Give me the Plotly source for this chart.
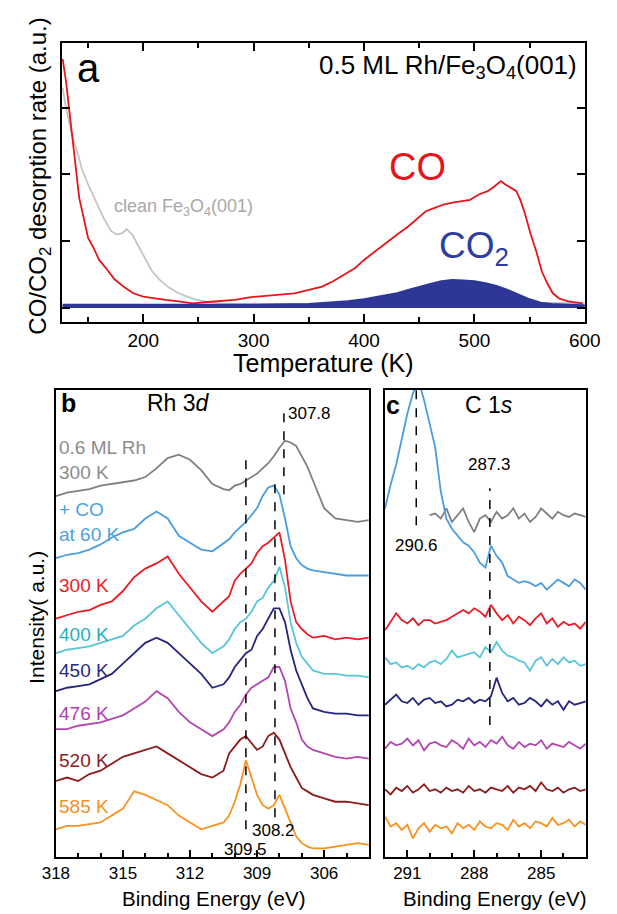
import plotly.graph_objects as go

W, H = 617, 914
FONT = "Liberation Sans, Arial, sans-serif"

# ---------------- Panel a: TPD ----------------
T_co = [127, 130, 133, 136, 139, 142, 146, 150, 155, 160, 167, 174, 182, 191, 200, 210, 220, 232, 245,
        258, 270, 283, 296, 310, 324, 337, 350, 362, 372, 382, 392, 400, 410, 420, 430, 440, 448, 456,
        464, 472, 480, 488, 496, 504, 512, 518, 524, 528, 533, 538, 542, 546, 551, 556, 561, 566, 571,
        577, 585, 592, 598]
co_rate = [3.73, 3.4, 2.96, 2.5, 2.05, 1.65, 1.35, 1.05, 0.9, 0.72, 0.58, 0.43, 0.32, 0.22, 0.17, 0.14,
           0.12, 0.1, 0.07, 0.09, 0.1, 0.12, 0.16, 0.18, 0.2, 0.22, 0.27, 0.32, 0.4, 0.5, 0.6, 0.72, 0.85,
           0.97, 1.1, 1.22, 1.33, 1.45, 1.5, 1.55, 1.58, 1.6, 1.62, 1.7, 1.75, 1.82, 1.9, 1.85, 1.8, 1.75,
           1.6, 1.4, 1.1, 0.85, 0.55, 0.37, 0.22, 0.14, 0.1, 0.08, 0.07]

T_clean = [127, 130, 134, 137, 141, 144, 150, 157, 164, 171, 176, 181, 185, 190, 195, 201, 208, 215, 222,
           230, 238, 247, 258, 270, 290, 320, 360, 400, 450, 500, 550, 600]
clean_rate = [3.3, 3.0, 2.7, 2.5, 2.3, 2.1, 1.85, 1.6, 1.35, 1.15, 1.1, 1.12, 1.18, 1.1, 0.95, 0.75, 0.55,
              0.42, 0.32, 0.24, 0.18, 0.13, 0.09, 0.07, 0.06, 0.06, 0.06, 0.07, 0.07, 0.07, 0.08, 0.07]

T_co2 = [127, 150, 200, 250, 300, 350, 370, 385, 400, 415, 430, 440, 450, 460, 470, 480, 490, 500, 510,
         520, 530, 540, 550, 560, 570, 585, 600]
co2_rate = [0.05, 0.05, 0.04, 0.05, 0.05, 0.06, 0.08, 0.1, 0.13, 0.17, 0.22, 0.27, 0.32, 0.36, 0.4, 0.42,
            0.41, 0.4, 0.37, 0.33, 0.27, 0.2, 0.13, 0.08, 0.06, 0.05, 0.04]

# ---------------- Panel b: Rh 3d ----------------
E_rh = [318, 317.5, 317, 316.5, 316, 315.5, 315, 314.5, 314, 313.5, 313, 312.5, 312, 311.5, 311, 310.5,
        310.25, 310, 309.75, 309.5, 309.25, 309, 308.75, 308.5, 308.25, 308, 307.75, 307.5, 307.25, 307,
        306.75, 306.5, 306, 305.5, 305, 304.5, 304]
rh_labels = ["0.6 ML Rh<br>300 K", "+ CO<br>at 60 K", "300 K", "400 K", "450 K", "476 K", "520 K", "585 K"]
rh_line_colors = ["#808080", "#4a9de0", "#ec1c24", "#58c6d8", "#25257f", "#b346b0", "#8e1b1b", "#f7931e"]
rh_text_colors = ["#8c8c8c", "#4aa3df", "#ec1c24", "#1fb0c0", "#2a2a80", "#b040b0", "#8b2020", "#f5901e"]
rh_label_y = [11.5, 9.7, 7.85, 6.45, 5.4, 4.15, 2.8, 1.45]

rh_gray = [10.45, 10.55, 10.60, 10.65, 10.75, 10.80, 10.85, 10.90, 11.00, 11.25, 11.55, 11.65, 11.50, 11.20,
           10.80, 10.65, 10.62, 10.75, 10.80, 10.90, 11.00, 11.10, 11.25, 11.40, 11.60, 11.85, 12.05, 12.00,
           11.90, 11.60, 11.30, 10.90, 10.10, 9.80, 9.75, 9.70, 9.75]
rh_co60 = [8.65, 8.75, 8.80, 8.90, 9.05, 9.25, 9.40, 9.50, 9.80, 10.00, 9.80, 9.30, 9.10, 8.90, 8.85, 9.10,
           9.20, 9.40, 9.55, 9.70, 9.90, 10.10, 10.45, 10.70, 10.75, 10.50, 9.80, 9.00, 8.65, 8.45, 8.35,
           8.30, 8.25, 8.20, 8.15, 8.15, 8.15]
rh_300 = [6.90, 7.00, 7.10, 7.15, 7.30, 7.40, 7.70, 8.10, 8.35, 8.50, 8.70, 8.20, 7.80, 7.40, 7.10, 7.40,
          7.55, 8.00, 8.20, 8.35, 8.50, 8.80, 9.00, 9.10, 9.25, 9.40, 8.60, 7.40, 6.80, 6.60, 6.45, 6.35,
          6.40, 6.30, 6.35, 6.30, 6.35]
rh_400 = [5.90, 6.00, 6.05, 6.10, 6.20, 6.30, 6.40, 6.70, 6.90, 7.20, 7.40, 7.00, 6.60, 6.20, 5.90, 6.10,
          6.30, 6.60, 6.80, 6.90, 7.10, 7.40, 7.50, 7.80, 8.00, 8.40, 7.80, 6.80, 6.20, 5.80, 5.60, 5.40,
          5.30, 5.30, 5.25, 5.25, 5.20]
rh_450 = [4.80, 4.90, 4.95, 5.00, 5.15, 5.30, 5.60, 5.90, 6.20, 6.35, 6.20, 5.90, 5.60, 5.30, 4.90, 5.00,
          5.20, 5.50, 5.70, 5.90, 6.00, 6.40, 6.60, 6.90, 7.20, 7.20, 6.80, 6.00, 5.40, 5.00, 4.60, 4.30,
          4.20, 4.15, 4.15, 4.10, 4.10]
rh_476 = [3.70, 3.70, 3.80, 3.85, 3.90, 4.00, 4.10, 4.30, 4.50, 4.80, 4.60, 4.20, 3.90, 3.70, 3.50, 3.70,
          3.90, 4.20, 4.40, 4.70, 4.90, 5.00, 5.10, 5.20, 5.50, 5.50, 5.10, 4.30, 3.90, 3.40, 3.20, 3.10,
          3.00, 2.90, 2.85, 2.90, 2.85]
rh_520 = [2.20, 2.30, 2.20, 2.40, 2.50, 2.70, 2.90, 3.00, 3.10, 3.20, 3.00, 2.80, 2.60, 2.40, 2.30, 2.50,
          3.00, 3.20, 3.40, 3.50, 3.30, 3.10, 3.20, 3.50, 3.60, 3.40, 3.00, 2.60, 2.30, 2.00, 1.90, 1.80,
          1.70, 1.60, 1.60, 1.55, 1.50]
rh_585 = [0.80, 0.90, 0.90, 0.95, 1.00, 1.20, 1.40, 1.90, 1.80, 1.65, 1.50, 1.20, 1.00, 0.80, 0.90, 1.00,
          1.20, 1.60, 2.10, 2.80, 2.30, 1.80, 1.50, 1.40, 1.50, 1.80, 1.40, 1.00, 0.60, 0.40, 0.30, 0.25,
          0.25, 0.30, 0.35, 0.40, 0.35]
rh_series = [rh_gray, rh_co60, rh_300, rh_400, rh_450, rh_476, rh_520, rh_585]

# ---------------- Panel c: C 1s ----------------
E_c = [292, 291.75, 291.5, 291.25, 291, 290.75, 290.5, 290.25, 290, 289.75, 289.5, 289.25, 289, 288.75,
       288.5, 288.25, 288, 287.75, 287.5, 287.25, 287, 286.75, 286.5, 286.25, 286, 285.75, 285.5, 285.25,
       285, 284.75, 284.5, 284.25, 284, 283.75, 283.5, 283.25, 283]
c_gray = [None] * 8 + [10.1, 10.15, 10.0, 10.3, 9.9, 10.1, 10.3, 9.9, 9.6, 10.0, 10.1, 9.9, 10.2, 10.0,
                       10.1, 10.3, 10.0, 10.15, 9.9, 10.05, 10.3, 10.15, 10.0, 10.2, 10.1, 10.05, 10.15,
                       10.1, 10.05]
c_co60 = [10.3, 11.0, 11.6, 12.4, 13.1, 13.7, 14.1, 13.5, 12.8, 12.1, 10.8, 10.0, 9.7, 9.5, 9.3, 9.2, 9.0,
          8.7, 8.55, 9.2, 8.9, 8.7, 8.3, 8.2, 8.1, 8.15, 8.1, 8.0, 8.1, 7.9, 8.05, 8.2, 8.1, 8.0, 8.2, 8.1,
          7.9]
c_300 = [6.7, 6.95, 7.2, 7.0, 6.9, 7.05, 6.85, 7.0, 7.0, 6.9, 6.95, 7.0, 7.1, 7.2, 7.3, 7.2, 7.35, 7.25,
         7.1, 7.45, 7.2, 7.0, 7.15, 6.9, 7.1, 7.0, 6.85, 7.05, 7.2, 6.9, 7.05, 6.8, 6.95, 6.85, 6.9, 6.75,
         6.95]
c_400 = [5.9, 5.7, 5.75, 5.6, 5.65, 5.55, 5.7, 5.6, 5.75, 5.8, 5.7, 5.85, 6.1, 5.9, 5.95, 6.0, 6.05, 5.9,
         6.2, 6.05, 6.35, 6.1, 5.95, 5.9, 5.8, 5.75, 5.5, 5.8, 5.9, 5.65, 5.85, 5.7, 5.9, 5.75, 5.8, 5.65,
         5.7]
c_450 = [4.5, 4.65, 4.8, 4.6, 4.55, 4.7, 4.5, 4.65, 4.7, 4.55, 4.6, 4.45, 4.5, 4.65, 4.6, 4.7, 4.55, 4.65,
         4.6, 4.75, 5.3, 4.85, 4.6, 4.7, 4.5, 4.55, 4.7, 4.6, 4.45, 4.65, 4.5, 4.6, 4.35, 4.6, 4.5, 4.55,
         4.6]
c_476 = [3.2, 3.4, 3.3, 3.35, 3.5, 3.3, 3.45, 3.15, 3.35, 3.4, 3.3, 3.25, 3.45, 3.35, 3.2, 3.5, 3.3, 3.4,
         3.25, 3.45, 3.35, 3.55, 3.3, 3.2, 3.4, 3.25, 3.35, 3.3, 3.45, 3.2, 3.35, 3.3, 3.25, 3.4, 3.3, 3.2,
         3.35]
c_520 = [2.0, 1.85, 2.05, 1.95, 2.1, 1.9, 2.0, 2.15, 1.95, 2.0, 1.9, 2.05, 1.95, 2.0, 1.9, 2.1, 1.95, 2.0,
         1.9, 2.05, 2.0, 1.95, 2.1, 1.9, 2.05, 2.0, 2.1, 1.95, 2.2, 2.0, 1.95, 2.05, 1.9, 2.0, 2.05, 1.95,
         2.0]
c_585 = [1.2, 0.9, 1.0, 0.8, 0.95, 0.55, 0.85, 1.0, 0.75, 0.95, 0.85, 0.9, 0.7, 1.0, 0.85, 0.95, 0.8, 1.05,
         0.9, 0.85, 1.0, 0.95, 0.8, 1.1, 0.9, 1.0, 0.85, 1.05, 1.0, 0.9, 1.15, 0.95, 1.0, 1.1, 0.9, 1.05,
         0.95]
c_series = [c_gray, c_co60, c_300, c_400, c_450, c_476, c_520, c_585]

# Reference peak positions (eV) for dashed markers
rh_peaks = [309.5, 308.2, 307.8]
c_peaks = [290.6, 287.3]


def px(x):
    return x / W


def py(y):
    return 1 - y / H


fig = go.Figure()

# Panel a traces
fig.add_trace(go.Scatter(x=T_clean, y=clean_rate, mode="lines", line=dict(color="#c4c4c4", width=1.8),
                         xaxis="x", yaxis="y", showlegend=False))
fig.add_trace(go.Scatter(x=T_co, y=co_rate, mode="lines", line=dict(color="#e8141c", width=1.8),
                         xaxis="x", yaxis="y", showlegend=False))
fig.add_trace(go.Scatter(x=T_co2, y=co2_rate, mode="lines", fill="tozeroy", fillcolor="#2e3796",
                         line=dict(color="#2e3796", width=2), xaxis="x", yaxis="y", showlegend=False))

# Panel b traces
for vals, col in zip(rh_series, rh_line_colors):
    fig.add_trace(go.Scatter(x=E_rh, y=vals, mode="lines", line=dict(color=col, width=1.8),
                             xaxis="x2", yaxis="y2", showlegend=False))
# Panel c traces
for vals, col in zip(c_series, rh_line_colors):
    fig.add_trace(go.Scatter(x=E_c, y=vals, mode="lines", line=dict(color=col, width=1.8),
                             xaxis="x3", yaxis="y3", showlegend=False, connectgaps=False))

tickfont_a = dict(family=FONT, size=19, color="black")
tickfont_b = dict(family=FONT, size=17, color="black")

common_axis = dict(showline=True, linecolor="black", showgrid=False, zeroline=False, ticks="inside",
                   tickcolor="black")

fig.update_layout(
    width=W, height=H, margin=dict(l=0, r=0, t=0, b=0),
    paper_bgcolor="white", plot_bgcolor="white",
    font=dict(family=FONT, color="black"),
    xaxis=dict(**common_axis, domain=[px(50), px(600)], anchor="y", range=[126, 600], tick0=0, dtick=100,
               ticklen=8, tickwidth=1.5, linewidth=2, mirror="allticks", tickfont=tickfont_a,
               minor=dict(tick0=0, dtick=50, ticks="inside", ticklen=5, tickcolor="black")),
    yaxis=dict(**common_axis, domain=[py(322), py(43)], anchor="x", range=[-0.21, 3.97],
               tickvals=[0, 1, 2, 3], ticklen=8, tickwidth=1.5, linewidth=2, mirror="allticks",
               showticklabels=False),
    xaxis2=dict(**common_axis, domain=[px(44), px(373)], anchor="y2", range=[318, 304],
                tickvals=[318, 315, 312, 309, 306], ticklen=7, tickwidth=1.5, linewidth=1.5, mirror=True,
                tickfont=tickfont_b,
                minor=dict(tick0=0, dtick=1, ticks="inside", ticklen=4, tickcolor="black")),
    yaxis2=dict(**common_axis, domain=[py(857), py(390)], anchor="x2", range=[0, 13.52], showticklabels=False,
                linewidth=1.5, mirror=True, tickvals=[]),
    xaxis3=dict(**common_axis, domain=[px(390), px(601)], anchor="y3", range=[292, 283],
                tickvals=[291, 288, 285], ticklen=7, tickwidth=1.5, linewidth=1.5, mirror=True,
                tickfont=tickfont_b,
                minor=dict(tick0=0, dtick=1, ticks="inside", ticklen=4, tickcolor="black")),
    yaxis3=dict(**common_axis, domain=[py(857), py(390)], anchor="x3", range=[0, 13.8], showticklabels=False,
                linewidth=1.5, mirror=True, tickvals=[]),
)

shapes = []
dash_b = [(rh_peaks[0], 0.8, 11.75), (rh_peaks[1], 1.15, 10.95), (rh_peaks[2], 10.5, 12.9)]
for e, y0, y1 in dash_b:
    shapes.append(dict(type="line", xref="x2", yref="y2", x0=e, x1=e, y0=y0, y1=y1,
                       line=dict(color="black", width=1.5, dash="dash")))
dash_c = [(c_peaks[0], 9.8, 13.8), (c_peaks[1], 3.9, 10.9)]
for e, y0, y1 in dash_c:
    shapes.append(dict(type="line", xref="x3", yref="y3", x0=e, x1=e, y0=y0, y1=y1,
                       line=dict(color="black", width=1.5, dash="dash")))
fig.update_layout(shapes=shapes)

ann = []


def A(text, x, y, size, color="black", xref="paper", yref="paper", xanchor="center", yanchor="middle",
      angle=0, align="center"):
    ann.append(dict(text=text, x=x, y=y, xref=xref, yref=yref, xanchor=xanchor, yanchor=yanchor,
                    showarrow=False, textangle=angle, align=align, borderpad=0,
                    font=dict(family=FONT, size=size, color=color)))


# Panel a texts
A("a", px(78), py(68), 40)
A("0.5 ML Rh/Fe<sub>3</sub>O<sub>4</sub>(001)", px(593), py(66), 26, xanchor="right")
A("CO", px(424), py(167), 38, color="#e8141c")
A("CO<sub>2</sub>", px(446), py(248), 37, color="#2e3da0", xanchor="left")
A("clean Fe<sub>3</sub>O<sub>4</sub>(001)", px(104), py(207), 18, color="#a8a8a8", xanchor="left")
A("CO/CO<sub>2</sub> desorption rate (a.u.)", px(27), py(176), 24, angle=-90)
A("Temperature (K)", px(325), py(363), 25)

# Panel b texts
A("<b>b</b>", px(57), py(403), 25)
A("Rh 3<i>d</i>", px(173), py(403), 23)
A("Intensity( a.u.)", px(23), py(617), 21, angle=-90)
A("Binding Energy (eV)", px(210), py(898), 20.5)
for lab, col, yv in zip(rh_labels, rh_text_colors, rh_label_y):
    A(lab, 317.9, yv, 19, color=col, xref="x2", yref="y2", xanchor="left", align="left")
A(f"{rh_peaks[2]:.1f}", 307.65, 12.85, 17, xref="x2", yref="y2", xanchor="left")
A(f"{rh_peaks[1]:.1f}", 308.25, 0.78, 17, xref="x2", yref="y2")
A(f"{rh_peaks[0]:.1f}", 309.5, 0.22, 17, xref="x2", yref="y2")

# Panel c texts
A("<b>c</b>", 291.65, 13.35, 25, xref="x3", yref="y3")
A("C 1<i>s</i>", 287.35, 13.35, 23, xref="x3", yref="y3")
A("Binding Energy (eV)", px(505), py(898), 20.5)
A(f"{c_peaks[0]:.1f}", 290.6, 9.2, 17, xref="x3", yref="y3")
A(f"{c_peaks[1]:.1f}", 287.3, 11.6, 17, xref="x3", yref="y3")

fig.update_layout(annotations=ann)
fig.write_html("out.html", config={"displayModeBar": False},
               post_script="document.body.style.margin='0px';")
